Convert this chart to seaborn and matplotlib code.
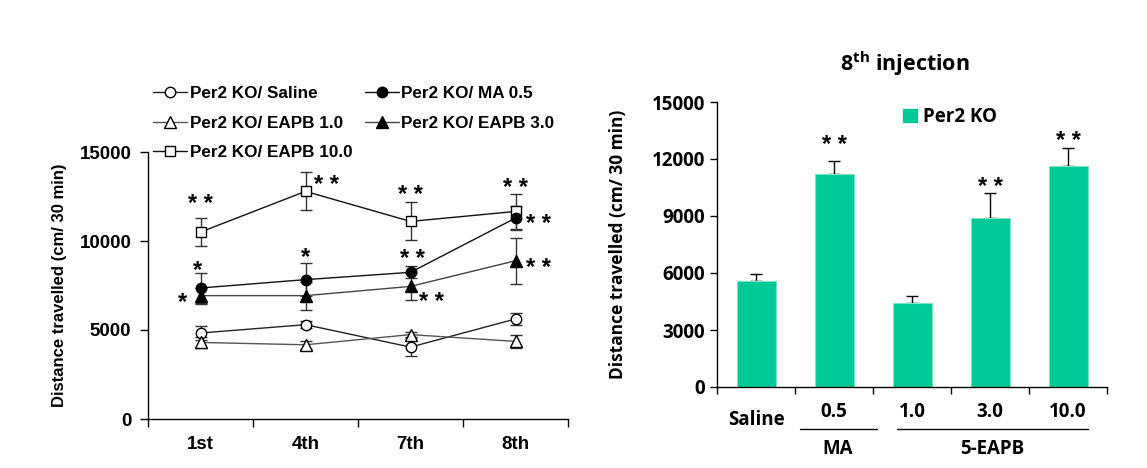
import numpy as np
import pandas as pd
import matplotlib
matplotlib.use("Agg")
import matplotlib.pyplot as plt
import seaborn as sns
from matplotlib.lines import Line2D
from matplotlib.patches import Patch
from matplotlib import font_manager as fm

sns.set_style("white")
plt.rcParams['font.family'] = ['Liberation Sans', 'DejaVu Sans']
plt.rcParams['text.color'] = 'black'
plt.rcParams['axes.labelcolor'] = 'black'
plt.rcParams['xtick.color'] = 'black'
plt.rcParams['ytick.color'] = 'black'

# pick a bold sans for the right panel
RF = 'Open Sans'
for cand in ['Noto Sans', 'Open Sans', 'Lato', 'Roboto']:
    try:
        p = fm.findfont(fm.FontProperties(family=cand, weight='bold'), fallback_to_default=False)
        if 'bold' in p.lower():
            RF = cand
            break
    except Exception:
        pass
plt.rcParams['mathtext.fontset'] = 'custom'
plt.rcParams['mathtext.bf'] = RF + ':bold'
plt.rcParams['mathtext.rm'] = RF

# ---------------- data ----------------
injections = ["1st", "4th", "7th", "8th"]
saline = [4830, 5300, 4040, 5620]
saline_err = [370, 200, 520, 350]
eapb1 = [4300, 4170, 4740, 4360]
eapb1_err = [300, 240, 150, 380]
ma05 = [7360, 7830, 8240, 11290]
ma05_err = [840, 930, 330, 660]
eapb3 = [6930, 6930, 7450, 8890]
eapb3_err = [450, 790, 750, 1300]
eapb10 = [10500, 12790, 11100, 11660]
eapb10_err = [790, 1070, 1070, 980]

bar_labels = ["Saline", "0.5", "1.0", "3.0", "10.0"]
bar_values = [5560, 11220, 4400, 8880, 11640]
bar_err = [370, 650, 370, 1320, 960]

left_yticks = [0, 5000, 10000, 15000]
right_yticks = [0, 3000, 6000, 9000, 12000, 15000]

fig = plt.figure(figsize=(11.47, 4.68), dpi=100)
axL = fig.add_axes([148/1147, 1-419/468, (568-148)/1147, (419-152)/468])
axR = fig.add_axes([717/1147, 1-387/468, (1107-717)/1147, (387-102)/468])

# ---------------- left panel ----------------
x = np.arange(len(injections))
series = [
    ("Per2 KO/ Saline", saline, saline_err, 'o', 'white', '#222222', 7.5),
    ("Per2 KO/ EAPB 1.0", eapb1, eapb1_err, '^', 'white', '#555555', 8),
    ("Per2 KO/ EAPB 10.0", eapb10, eapb10_err, 's', 'white', '#111111', 7.5),
    ("Per2 KO/ MA 0.5", ma05, ma05_err, 'o', 'black', '#111111', 7.5),
    ("Per2 KO/ EAPB 3.0", eapb3, eapb3_err, '^', 'black', '#444444', 8),
]
handles = []
for name, vals, errs, mk, fc, lc, ms in series:
    axL.errorbar(x, vals, yerr=errs, fmt='none', ecolor='#333333', elinewidth=1,
                 capsize=4.5, capthick=1, zorder=2)
    df = pd.DataFrame({"x": x, "y": vals})
    sns.lineplot(data=df, x="x", y="y", ax=axL, color=lc, linewidth=1,
                 marker=mk, markersize=ms, markerfacecolor=fc,
                 markeredgecolor='black', markeredgewidth=1, zorder=3)
    handles.append(Line2D([0], [0], color=lc, lw=1, marker=mk, markersize=ms,
                          markerfacecolor=fc, markeredgecolor='black', label=name))

axL.set_xlim(-0.5, 3.5)
axL.set_ylim(0, 15000)
axL.set_yticks(left_yticks)
axL.set_yticklabels([str(v) for v in left_yticks], fontsize=13.5, fontweight='bold')
axL.set_xticks([-0.5, 0.5, 1.5, 2.5, 3.5])
axL.set_xticklabels([])
axL.set_xticks(x, injections, minor=True)
axL.tick_params(axis='x', which='minor', length=0, pad=12, labelsize=13.5)
for t in axL.get_xticklabels(minor=True):
    t.set_fontweight('bold')
axL.tick_params(axis='x', which='major', direction='out', length=6, width=1, color='black')
axL.tick_params(axis='y', direction='out', length=6, width=1, color='black', pad=6)
axL.tick_params(bottom=True, left=True, which='major')
for s in ['top', 'right']:
    axL.spines[s].set_visible(False)
for s in ['left', 'bottom']:
    axL.spines[s].set_color('black')
    axL.spines[s].set_linewidth(1)
axL.set_xlabel("")
axL.set_ylabel("Distance travelled (cm/ 30 min)", fontsize=12, fontweight='bold', labelpad=9)

leg = fig.legend(handles=handles, ncol=2, loc='upper left',
                 bbox_to_anchor=(153/1147, 1-86/468), frameon=False,
                 prop={'family': 'Liberation Sans', 'weight': 'bold', 'size': 12.3},
                 handlelength=2.0, handletextpad=0.15, columnspacing=0.72,
                 labelspacing=0.85, borderpad=0, borderaxespad=0)

stars_left = [
    (0, 12360, "* *"), (1.2, 13440, "* *"), (2.0, 12880, "* *"), (3.0, 13260, "* *"),
    (-0.03, 8670, "*"), (1.0, 9420, "*"), (2.02, 9290, "* *"), (3.22, 11290, "* *"),
    (-0.17, 6890, "*"), (2.2, 6890, "* *"), (3.22, 8820, "* *"),
]
for sx, sy, st in stars_left:
    axL.annotate(st, xy=(sx, sy), xytext=(0, -9), textcoords='offset points',
                 ha='center', va='baseline', fontsize=17, fontweight='bold')

# ---------------- right panel ----------------
bdf = pd.DataFrame({"dose": bar_labels, "dist": bar_values})
sns.barplot(data=bdf, x="dose", y="dist", ax=axR, color='#00C896', width=0.5,
            edgecolor='#7fe3c8', linewidth=0.8, saturation=1, zorder=2)
bx = np.arange(len(bar_labels))
axR.errorbar(bx, bar_values, yerr=[np.zeros(len(bar_err)), bar_err], fmt='none',
             ecolor='black', elinewidth=1, capsize=4, capthick=1, zorder=1)
axR.set_xlim(-0.5, 4.5)
axR.set_ylim(0, 15000)
axR.set_yticks(right_yticks)
axR.set_yticklabels([str(v) for v in right_yticks], fontsize=13.5, fontweight='bold',
                    family=RF)
axR.set_xticks([-0.5, 0.5, 1.5, 2.5, 3.5, 4.5])
axR.set_xticklabels([])
axR.tick_params(axis='both', which='major', direction='out', length=5, width=1,
                color='black', bottom=True, left=True)
for s in ['top', 'right']:
    axR.spines[s].set_visible(False)
for s in ['left', 'bottom']:
    axR.spines[s].set_color('black')
    axR.spines[s].set_linewidth(1)
axR.set_xlabel("")
axR.set_ylabel("Distance travelled (cm/ 30 min)", fontsize=12.5, fontweight='bold',
               family=RF, labelpad=18)

tf = dict(fontsize=13.5, fontweight='bold', family=RF, ha='center', va='center')
fig.text(756/1147, 1-420/468, bar_labels[0], **tf)
for i in range(1, 5):
    fig.text((756 + 78*i)/1147, 1-412/468, bar_labels[i], **tf)
fig.add_artist(Line2D([800/1147, 877/1147], [1-429/468, 1-429/468], color='black', lw=1))
fig.add_artist(Line2D([897/1147, 1088/1147], [1-429/468, 1-429/468], color='black', lw=1))
fig.text(838/1147, 1-449/468, "MA", **tf)
fig.text(992/1147, 1-449/468, "5-EAPB", **tf)

fig.text(905/1147, 1-64/468, r"8$^{\mathbf{th}}$ injection", fontsize=15.5,
         fontweight='bold', family=RF, ha='center', va='center')

axR.legend(handles=[Patch(facecolor='#00C896', edgecolor='#00C896', label='Per2 KO')],
           loc='upper left', bbox_to_anchor=(903/1147, 1-107/468),
           bbox_transform=fig.transFigure, frameon=False,
           prop={'family': RF, 'weight': 'bold', 'size': 13.5},
           handlelength=0.75, handleheight=0.75, handletextpad=0.3, borderpad=0,
           borderaxespad=0)

stars_right = [(1, 13050), (3, 10810), (4, 13220)]
for sx, sy in stars_right:
    axR.annotate("* *", xy=(sx, sy), xytext=(0, -9), textcoords='offset points',
                 ha='center', va='baseline', fontsize=17, fontweight='bold',
                 family='Liberation Sans')

fig.savefig("out.png", dpi=100)
